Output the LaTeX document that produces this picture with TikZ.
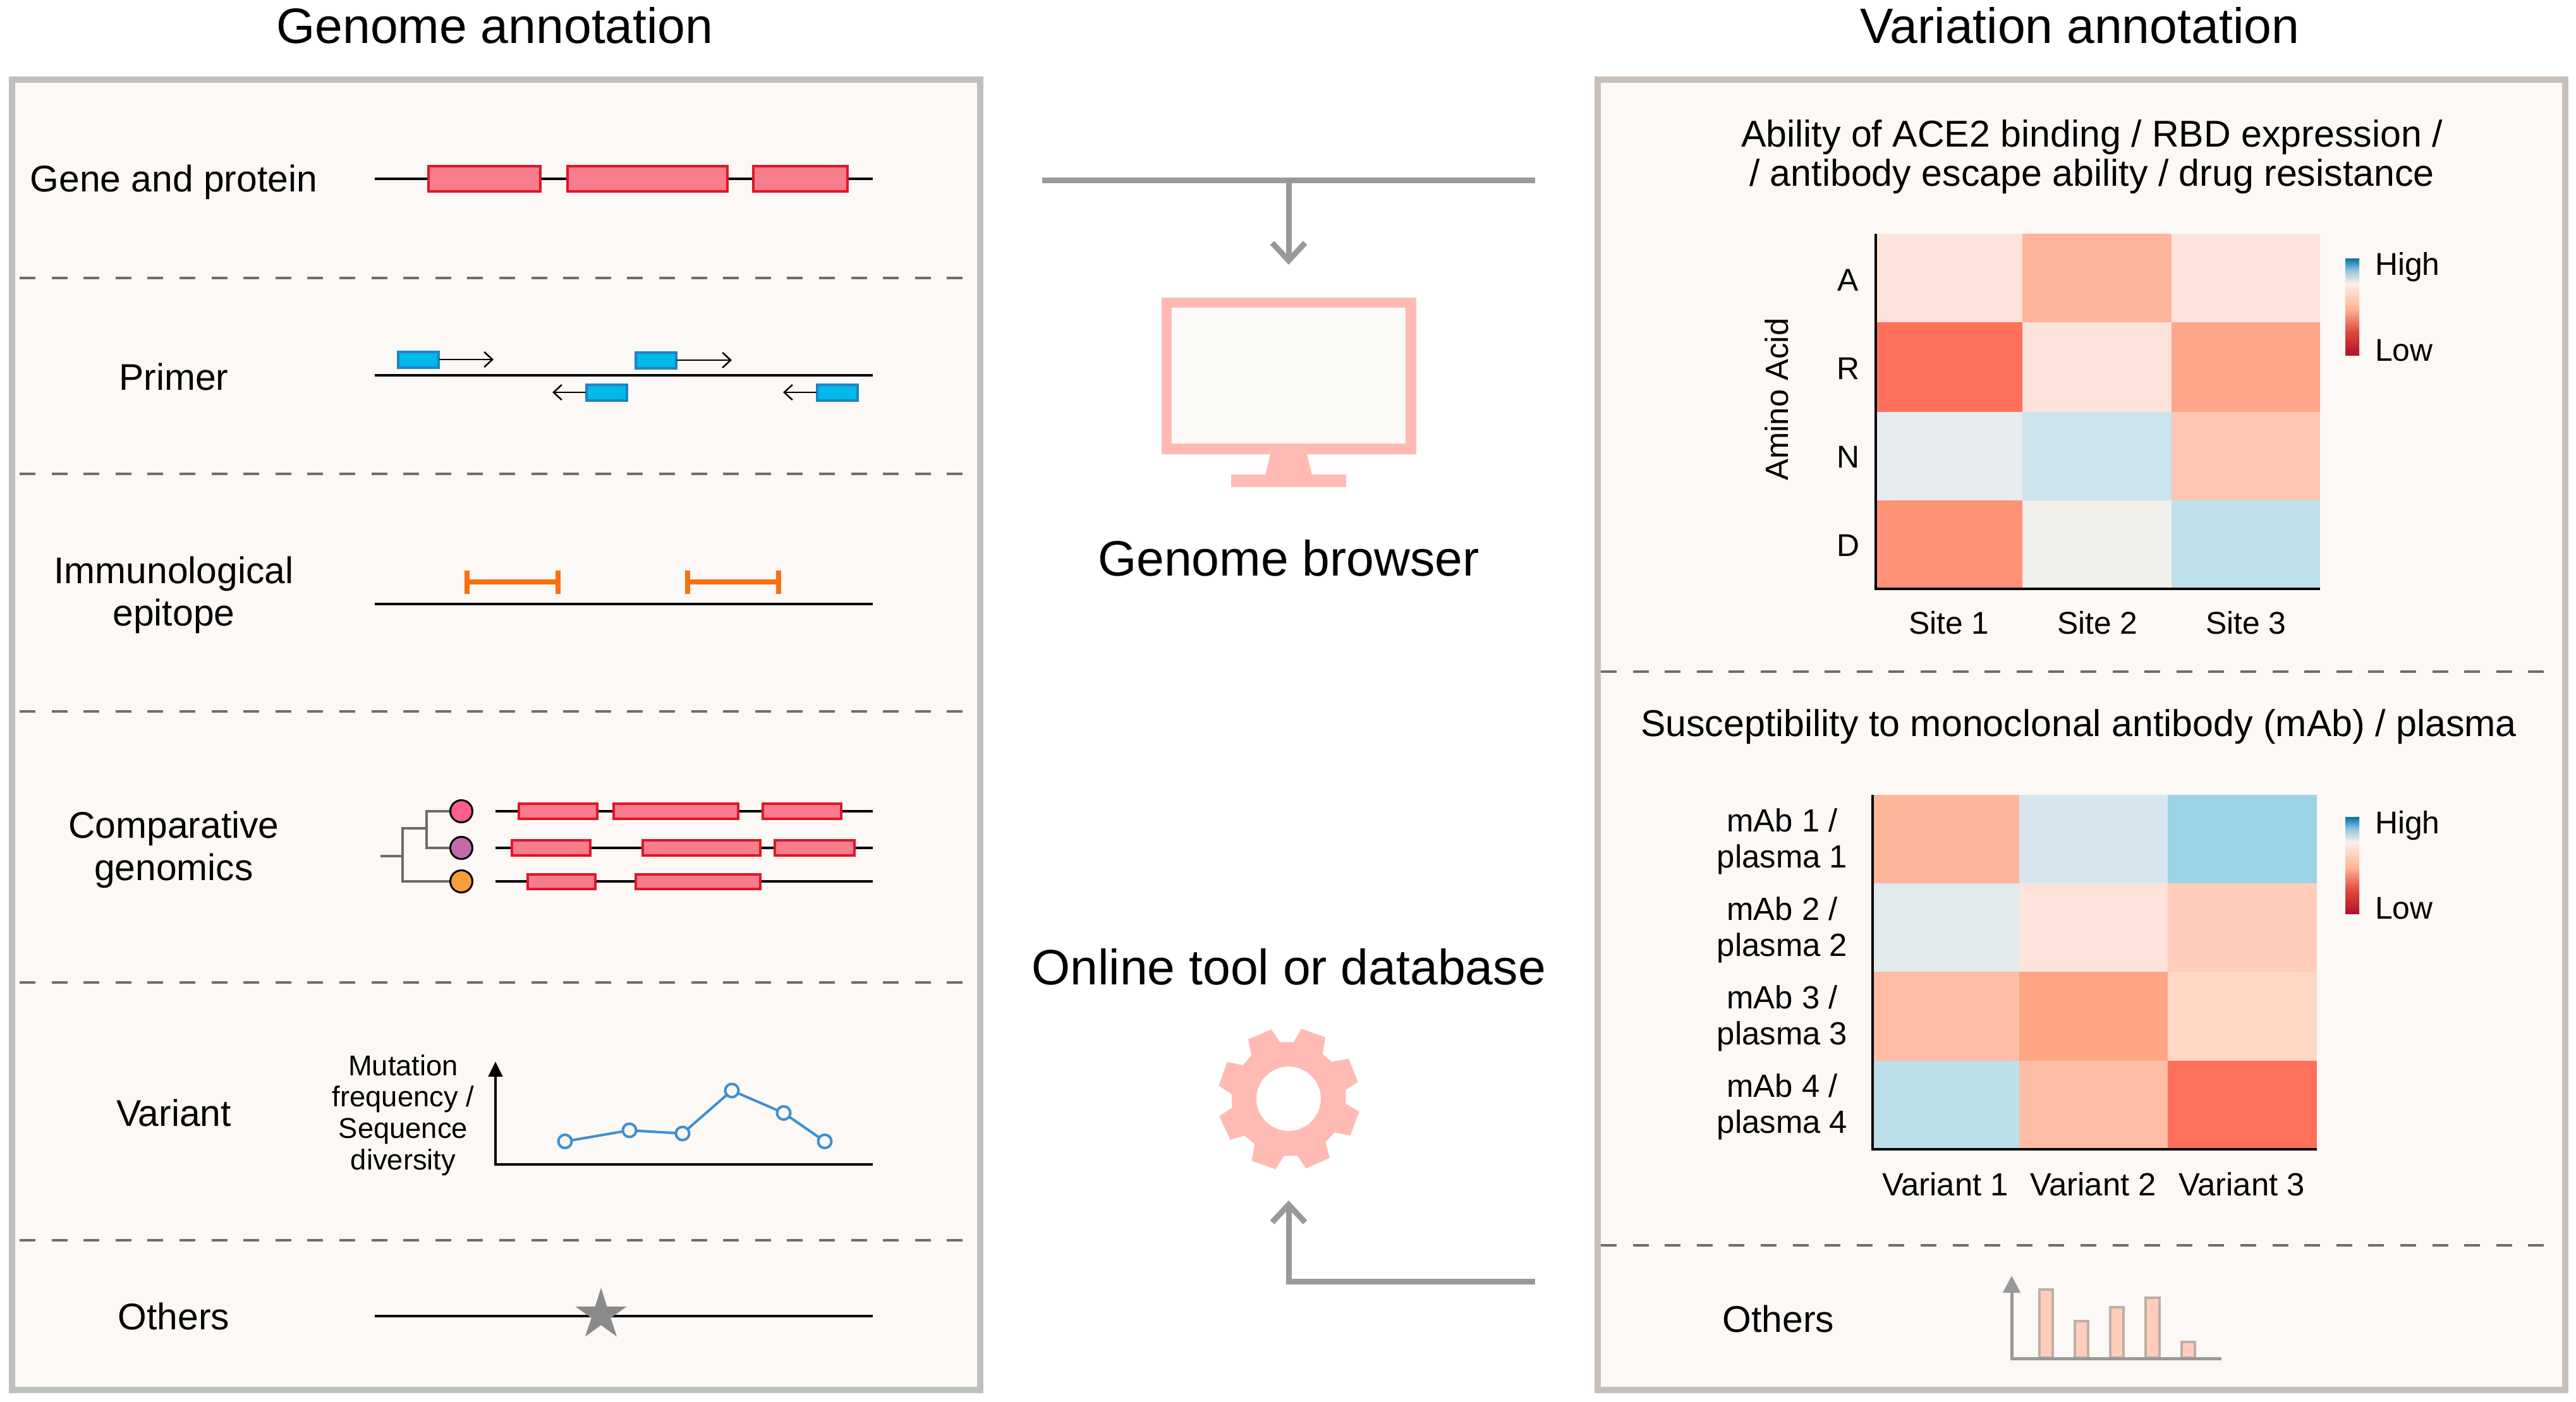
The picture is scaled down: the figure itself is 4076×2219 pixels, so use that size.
\documentclass[tikz,border=0pt]{standalone}
\usepackage{fontspec}
\setmainfont{Liberation Sans}
\usetikzlibrary{arrows.meta}
\definecolor{panelbg}{HTML}{FBF8F5}
\definecolor{lborder}{HTML}{BCC1BD}
\definecolor{rborder}{HTML}{C6C0B8}
\definecolor{dashgrey}{HTML}{6E6E6E}
\definecolor{genefill}{HTML}{F87C8C}
\definecolor{geneedge}{HTML}{E21526}
\definecolor{primerfill}{HTML}{00B8EC}
\definecolor{primeredge}{HTML}{1C84C6}
\definecolor{epitope}{HTML}{F8700F}
\definecolor{treegrey}{HTML}{6C6C6C}
\definecolor{arrowgrey}{HTML}{999999}
\definecolor{iconpink}{HTML}{FFBBB3}
\definecolor{screenbg}{HTML}{FBF9F6}
\definecolor{lineblue}{HTML}{3F8FD2}
\definecolor{stargrey}{HTML}{8A8A8A}
\definecolor{barfill}{HTML}{FFCDB9}
\definecolor{baredge}{HTML}{BDAFA8}
\definecolor{sA}{HTML}{B2102A}
\definecolor{sB}{HTML}{E0483C}
\definecolor{sC}{HTML}{FFB59A}
\definecolor{sD}{HTML}{FBF0EA}
\definecolor{sE}{HTML}{8CC4DC}
\definecolor{sF}{HTML}{0570A8}
\pgfdeclareverticalshading{rdbu}{100bp}{color(0bp)=(sA); color(25bp)=(sA); color(37bp)=(sB); color(49bp)=(sC); color(62bp)=(sD); color(69bp)=(sE); color(75bp)=(sF); color(100bp)=(sF)}
\newcommand{\gbox}[4]{\draw[genebox] (#1,#2) rectangle (#3,#4);}
\newcommand{\pbox}[4]{\draw[primerbox] (#1,#2) rectangle (#3,#4);}
\newcommand{\hcell}[5]{\definecolor{cellcol}{HTML}{#5}\fill[cellcol] (#1,#2) rectangle (#3,#4);}
\newcommand{\barbox}[3]{\draw[barstyle] (#1,#3) rectangle (#2,2149);}
\tikzset{
  x=1bp,y=-1bp,
  titletext/.style={font=\fontsize{79}{90}\selectfont,align=center,inner sep=0pt},
  lab/.style={font=\fontsize{59}{67}\selectfont,align=center,inner sep=0pt},
  sublab/.style={font=\fontsize{59.3}{62}\selectfont,align=center,inner sep=0pt},
  smalltext/.style={font=\fontsize{50}{57}\selectfont,align=center,inner sep=0pt},
  ticktext/.style={font=\fontsize{51}{57}\selectfont,align=center,inner sep=0pt},
  tinytext/.style={font=\fontsize{45.5}{50}\selectfont,align=center,inner sep=0pt},
  leftpanel/.style={draw=lborder,fill=panelbg,line width=10bp},
  rightpanel/.style={draw=rborder,fill=panelbg,line width=10bp},
  divider/.style={draw=dashgrey,line width=4bp,dash pattern=on 25bp off 25.6bp},
  trackline/.style={draw=black,line width=4.5bp},
  genebox/.style={draw=geneedge,fill=genefill,line width=4bp},
  primerbox/.style={draw=primeredge,fill=primerfill,line width=3.5bp},
  primerarrow/.style={draw=black,line width=2.5bp,-{Straight Barb[length=13bp,width=24bp,line width=2.5bp]}},
  epi/.style={draw=epitope,line width=8bp},
  treeline/.style={draw=treegrey,line width=4bp},
  leaf/.style={draw=black,line width=3bp},
  flow/.style={draw=arrowgrey,line width=9bp,-{Straight Barb[length=28bp,width=52bp,line width=9bp]}},
  hub/.style={draw=arrowgrey,line width=9bp},
  axisline/.style={draw=black,line width=4.5bp},
  ptmark/.style={draw=lineblue,line width=4bp,fill=panelbg},
  barstyle/.style={draw=baredge,fill=barfill,line width=3.5bp},
  baraxis/.style={draw=arrowgrey,line width=5bp}
}
\begin{document}
\begin{tikzpicture}
\useasboundingbox (0,0) rectangle (4076,2219);
\fill[white] (0,0) rectangle (4076,2219);
% titles
\node[titletext] (t1) at (783,40) {Genome annotation};
\node[titletext] (t2) at (3291,40) {Variation annotation};
% panels
\draw[leftpanel] (19,126) rectangle (1551,2200);
\draw[rightpanel] (2528,126) rectangle (4059,2200);
% left dividers
\foreach \yy in {440,750,1126,1555,1963}{\draw[divider] (31,\yy) -- (1525,\yy);}
% left labels
\node[lab] (l1) at (275,288) {Gene and protein};
\node[lab] (l2) at (275,596) {Primer};
\node[lab] (l3) at (275,942) {Immunological\\epitope};
\node[lab] (l4) at (275,1345) {Comparative\\genomics};
\node[lab] (l5) at (275,1761) {Variant};
\node[lab] (l6) at (275,2083) {Others};
% gene
\draw[trackline] (593,283) -- (1381,283);
\gbox{678}{263}{855}{303}\gbox{898}{263}{1151}{303}\gbox{1192}{263}{1341}{303}
% primer
\draw[trackline] (593,594) -- (1381,594);
\pbox{630}{557}{694}{582}\pbox{1006}{558}{1070}{583}\pbox{928}{609}{992}{634}\pbox{1293}{609}{1357}{634}
\draw[primerarrow] (695,569) -- (781,569);
\draw[primerarrow] (1071,570) -- (1158,570);
\draw[primerarrow] (927,621) -- (874,621);
\draw[primerarrow] (1292,621) -- (1239,621);
% epitope
\draw[trackline] (593,956) -- (1381,956);
\draw[epi] (739,903) -- (739,940);
\draw[epi] (883,903) -- (883,940);
\draw[epi] (739,921) -- (883,921);
\draw[epi] (1088,903) -- (1088,940);
\draw[epi] (1232,903) -- (1232,940);
\draw[epi] (1088,921) -- (1232,921);
% comparative
\draw[treeline] (602,1355) -- (637,1355);
\draw[treeline] (675,1311) -| (637,1395) -- (730,1395);
\draw[treeline] (730,1284) -| (675,1342) -- (730,1342);
\draw[leaf,fill={rgb,255:red,255;green,92;blue,143}] (730,1284) circle (17.5);
\draw[leaf,fill={rgb,255:red,194;green,107;blue,172}] (730,1342) circle (17.5);
\draw[leaf,fill={rgb,255:red,245;green,158;blue,62}] (730,1395) circle (17.5);
\draw[trackline] (784,1284) -- (1381,1284);
\draw[trackline] (784,1342) -- (1381,1342);
\draw[trackline] (784,1395) -- (1381,1395);
\gbox{821}{1272}{945}{1296}\gbox{971}{1272}{1168}{1296}\gbox{1207}{1272}{1331}{1296}
\gbox{810}{1330}{934}{1354}\gbox{1017}{1330}{1203}{1354}\gbox{1226}{1330}{1352}{1354}
\gbox{835}{1384}{942}{1407}\gbox{1006}{1384}{1203}{1407}
% variant plot
\node[tinytext] (m1) at (638,1765) {Mutation\\frequency /\\Sequence\\diversity};
\draw[axisline,{Triangle[length=24bp,width=22bp]}-] (784,1680) -- (784,1843) -- (1381,1843);
\draw[lineblue,line width=4bp] (894,1806.5) -- (996,1789) -- (1080,1794) -- (1158,1726) -- (1240,1761.5) -- (1305,1806.5);
\foreach \xx/\yy in {894/1806.5,996/1789,1080/1794,1158/1726,1240/1761.5,1305/1806.5}{\draw[ptmark] (\xx,\yy) circle (10.5);}
% others star
\draw[trackline] (593,2083) -- (1381,2083);
\fill[stargrey] (951,2038.4) -- (960.4,2067.9) -- (991.5,2067.9) -- (966.3,2086) -- (976,2115.5) -- (951,2097.3) -- (926,2115.5) -- (935.7,2086) -- (910.5,2067.9) -- (941.6,2067.9) -- cycle;
% centre top
\coordinate (hubL) at (1649,286);
\coordinate (hubR) at (2429,286);
\coordinate (hubM) at (2039,286);
\coordinate (hubT) at (2039,419);
\draw[hub] (hubL) -- (hubR);
\draw[flow] (hubM) -- (hubT);
\fill[iconpink,even odd rule] (1838,471) rectangle (2241,719) (1854,487) rectangle (2224,702);
\fill[screenbg] (1854,487) rectangle (2224,702);
\fill[iconpink] (2010,719) -- (2068,719) -- (2076,752) -- (2002,752) -- cycle;
\fill[iconpink] (1948,751) rectangle (2130,771);
\node[titletext] (gb) at (2039,883) {Genome browser};
% centre bottom
\node[titletext] (ot) at (2039,1530) {Online tool or database};
\begin{scope}[shift={(1850,1600)},x=0.3333bp,y=-0.3333bp]
\fill[iconpink,even odd rule] (485,88) -- (525,148) -- (590,148) -- (628,85) -- (742,125) -- (728,205) -- (772,242) -- (852,226) -- (896,338) -- (838,375) -- (838,440) -- (902,478) -- (860,592) -- (785,578) -- (742,622) -- (762,698) -- (650,748) -- (608,688) -- (545,688) -- (505,752) -- (392,712) -- (405,632) -- (358,592) -- (290,612) -- (238,500) -- (298,460) -- (296,395) -- (235,355) -- (275,242) -- (350,258) -- (390,212) -- (375,135) -- cycle (567,417) circle [radius=51bp];
\end{scope}
\coordinate (toolR) at (2429,2028);
\coordinate (toolC) at (2039,2028);
\coordinate (toolT) at (2039,1900);
\draw[flow] (toolR) -- (toolC) -- (toolT);
% right dividers
\foreach \yy in {1063,1971}{\draw[divider] (2533,\yy) -- (4030,\yy);}
% right top
\node[sublab] (h1) at (3310,248) {Ability of ACE2 binding / RBD expression /\\/ antibody escape ability / drug resistance};
\hcell{2969}{370}{3200}{510}{FDE3DA}\hcell{3200}{370}{3436}{510}{FFB59A}\hcell{3436}{370}{3671}{510}{FDE3DA}
\hcell{2969}{510}{3200}{652}{FF705A}\hcell{3200}{510}{3436}{652}{FDE3DA}\hcell{3436}{510}{3671}{652}{FFA58A}
\hcell{2969}{652}{3200}{792}{E6EBEE}\hcell{3200}{652}{3436}{792}{CAE3ED}\hcell{3436}{652}{3671}{792}{FFC7B3}
\hcell{2969}{792}{3200}{932}{FF9277}\hcell{3200}{792}{3436}{932}{F1EFEB}\hcell{3436}{792}{3671}{932}{BEE0EB}
\draw[axisline] (2968,370) -- (2968,932) -- (3671,932);
\node[smalltext] (aA) at (2924,443) {A};
\node[smalltext] (aR) at (2924,583) {R};
\node[smalltext] (aN) at (2924,723) {N};
\node[smalltext] (aD) at (2924,863) {D};
\node[ticktext,rotate=90] (aa) at (2811,632) {Amino Acid};
\node[smalltext] (s1) at (3084,986) {Site 1};
\node[smalltext] (s2) at (3319,986) {Site 2};
\node[smalltext] (s3) at (3554,986) {Site 3};
\shade[shading=rdbu] (3711,409) rectangle (3733,562);
\node[smalltext,anchor=west] (hi1) at (3758,423) {High};
\node[smalltext,anchor=west] (lo1) at (3758,555) {Low};
% right middle
\node[sublab] (h2) at (3289,1150) {Susceptibility to monoclonal antibody (mAb) / plasma};
\hcell{2964}{1258}{3195}{1398}{FFB59A}\hcell{3195}{1258}{3430}{1398}{D7E6EE}\hcell{3430}{1258}{3666}{1398}{9DD3E6}
\hcell{2964}{1398}{3195}{1538}{E2EAED}\hcell{3195}{1398}{3430}{1538}{FDE3DA}\hcell{3430}{1398}{3666}{1538}{FFCDB9}
\hcell{2964}{1538}{3195}{1679}{FFBDA6}\hcell{3195}{1538}{3430}{1679}{FFA485}\hcell{3430}{1538}{3666}{1679}{FFD8C6}
\hcell{2964}{1679}{3195}{1819}{BBE0EA}\hcell{3195}{1679}{3430}{1819}{FFBDA6}\hcell{3430}{1679}{3666}{1819}{FF715A}
\draw[axisline] (2963,1258) -- (2963,1819) -- (3666,1819);
\node[ticktext] (p1) at (2820,1332) {mAb 1 /\\plasma 1};
\node[ticktext] (p2) at (2820,1472) {mAb 2 /\\plasma 2};
\node[ticktext] (p3) at (2820,1612) {mAb 3 /\\plasma 3};
\node[ticktext] (p4) at (2820,1752) {mAb 4 /\\plasma 4};
\node[ticktext] (v1) at (3078,1874) {Variant 1};
\node[ticktext] (v2) at (3312,1874) {Variant 2};
\node[ticktext] (v3) at (3547,1874) {Variant 3};
\shade[shading=rdbu] (3711,1293) rectangle (3733,1446);
\node[smalltext,anchor=west] (hi2) at (3758,1307) {High};
\node[smalltext,anchor=west] (lo2) at (3758,1438) {Low};
% right bottom
\node[lab] (o2) at (2814,2087) {Others};
\barbox{3227}{3248}{2041}
\barbox{3283}{3304}{2091}
\barbox{3339}{3360}{2069}
\barbox{3395}{3417}{2054}
\barbox{3452}{3473}{2124}
\draw[baraxis,{Triangle[length=27bp,width=27bp]}-] (3183,2019) -- (3183,2150) -- (3515,2150);
\end{tikzpicture}
\end{document}
